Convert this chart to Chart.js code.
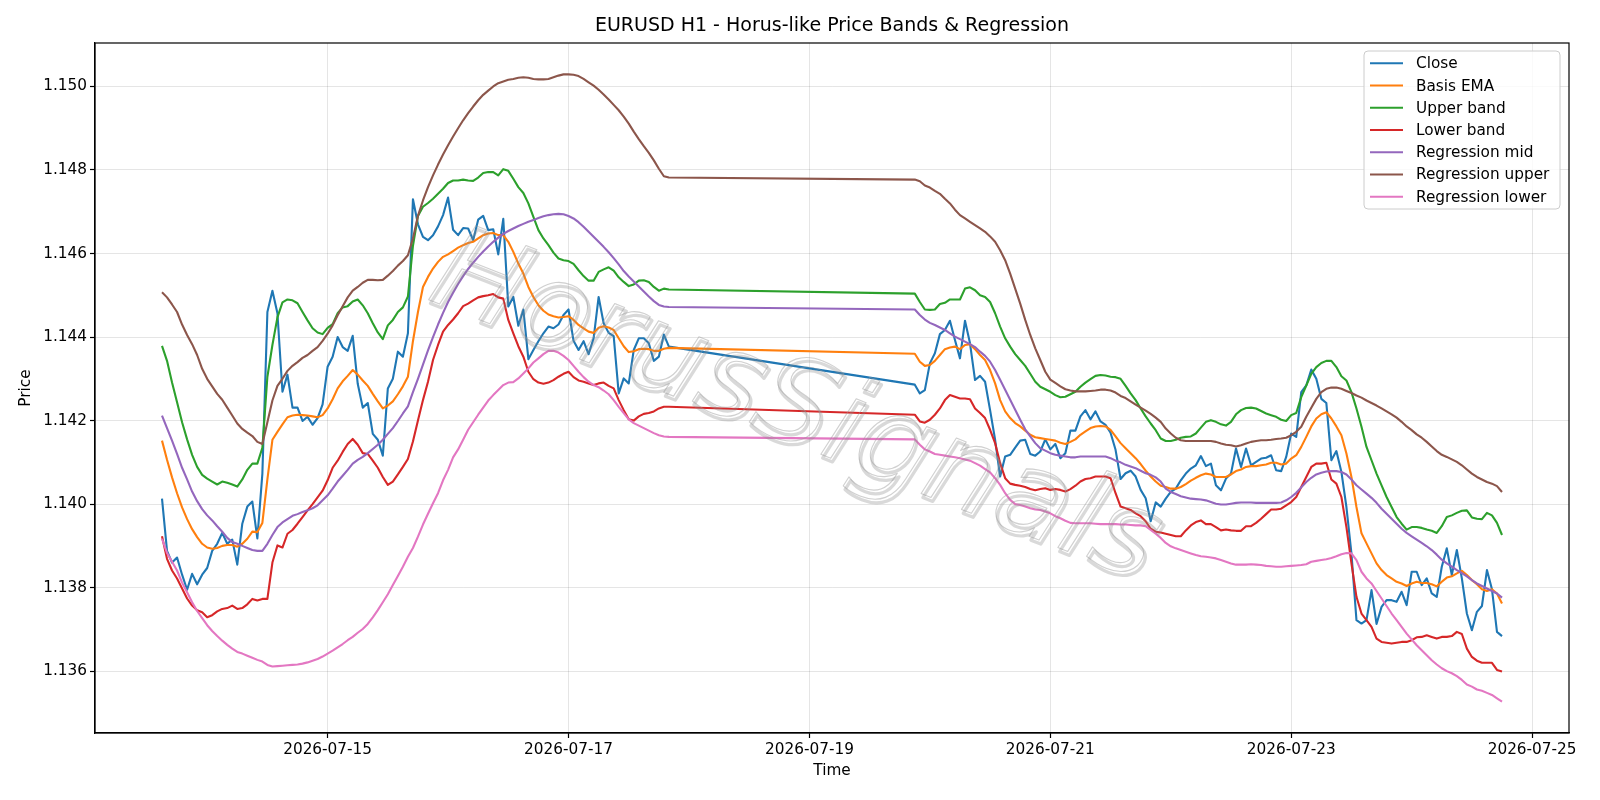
<!DOCTYPE html>
<html><head><meta charset="utf-8">
<script src="https://cdn.jsdelivr.net/npm/chart.js@4.4.1/dist/chart.umd.min.js"></script>
<style>html,body{margin:0;padding:0;background:#fff;}canvas{display:block;}</style>
</head><body>
<canvas id="c" width="1600" height="800" style="width:1600px;height:800px"></canvas>
<script>
// ---- data ----
const chartTitle = 'EURUSD H1 - Horus-like Price Bands & Regression';
const watermarkText = 'HorusSignals';
const seriesNames = ['Close','Basis EMA','Upper band','Lower band','Regression mid','Regression upper','Regression lower'];
const seriesColors = ['#1f77b4','#ff7f0e','#2ca02c','#d62728','#9467bd','#8c564b','#e377c2'];
// hourly bars in two trading sessions (weekend gap between them)
const sessionStarts = ['2026-07-13T15:00:00Z','2026-07-19T21:00:00Z'];
const sessionBars = [102, 118];
const xTickLabels = ['2026-07-15','2026-07-17','2026-07-19','2026-07-21','2026-07-23','2026-07-25'];
const yTickLabels = ['1.136','1.138','1.140','1.142','1.144','1.146','1.148','1.150'];

const close = [
1.14013,1.13888,1.13860,1.13872,1.13831,1.13795,1.13833,1.13808,1.13831,1.13847,1.13888,1.13905,1.13931,1.13905,1.13915,1.13855,1.13953,1.13994,1.14006,1.13918,1.14073,1.14460,1.14511,1.14457,1.14269,1.14310,1.14231,1.14231,1.14199,1.14209,1.14190,1.14206,1.14239,
1.14329,1.14353,1.14400,1.14376,1.14367,1.14403,1.14288,1.14231,1.14242,1.14168,1.14154,1.14116,1.14277,1.14300,1.14365,1.14353,1.14409,
1.14730,1.14670,1.14640,1.14632,1.14644,1.14665,1.14692,1.14734,1.14657,1.14644,1.14661,1.14660,1.14632,1.14681,1.14690,1.14656,1.14658,1.14598,1.14683,1.14473,1.14496,1.14427,1.14466,1.14347,1.14369,1.14390,1.14409,1.14425,1.14421,1.14430,1.14453,1.14466,1.14391,1.14369,1.14390,1.14359,1.14397,1.14496,1.14433,1.14410,1.14402,1.14265,1.14301,1.14289,1.14369,1.14397,1.14397,1.14385,1.14343,1.14353,1.14406,1.14377,
1.14286,1.14265,1.14273,1.14337,1.14361,1.14407,1.14417,1.14439,1.14393,1.14349,1.14439,1.14385,1.14297,1.14307,1.14293,1.14225,1.14154,1.14066,1.14114,1.14118,1.14135,1.14152,1.14154,1.14120,1.14116,1.14126,1.14155,1.14131,1.14144,1.14110,1.14122,1.14176,1.14176,1.14210,1.14225,1.14203,1.14222,1.14198,1.14190,1.14171,1.14130,1.14060,1.14074,1.14080,1.14066,1.14034,1.14014,1.13959,1.14004,1.13994,
1.14013,1.14029,1.14037,1.14057,1.14073,1.14085,1.14093,1.14115,1.14091,1.14097,1.14045,1.14033,1.14061,1.14073,1.14133,1.14089,1.14133,1.14093,1.14101,1.14109,1.14111,1.14117,1.14081,1.14079,1.14113,1.14169,1.14161,1.14268,1.14284,1.14322,1.14300,1.14252,1.14242,1.14105,1.14127,1.14077,1.13993,1.13882,1.13722,1.13714,1.13722,1.13794,1.13713,1.13754,1.13770,1.13770,1.13766,1.13790,1.13758,1.13838,1.13838,1.13806,1.13822,1.13786,1.13778,1.13850,1.13894,1.13830,1.13890,1.13822,1.13738,1.13698,1.13742,1.13756,1.13842,1.13796,1.13694,1.13684];

const basisEma = [
1.14152,1.14106,1.14064,1.14026,1.13992,1.13964,1.13940,1.13921,1.13905,1.13896,1.13893,1.13895,1.13900,1.13902,1.13902,1.13898,1.13905,1.13917,1.13934,1.13933,1.13955,1.14059,1.14154,1.14173,1.14191,1.14208,1.14212,1.14214,1.14213,1.14212,1.14210,1.14208,1.14213,
1.14229,1.14251,1.14277,1.14294,1.14307,1.14321,1.14310,1.14296,1.14283,1.14264,1.14246,1.14229,1.14236,1.14246,1.14263,1.14282,1.14305,
1.14390,1.14460,1.14520,1.14544,1.14564,1.14580,1.14592,1.14598,1.14606,1.14614,1.14620,1.14625,1.14628,1.14636,1.14644,1.14648,1.14649,1.14644,1.14644,1.14628,1.14604,1.14576,1.14552,1.14520,1.14496,1.14476,1.14463,1.14454,1.14450,1.14447,1.14448,1.14450,1.14441,1.14429,1.14421,1.14413,1.14410,1.14422,1.14426,1.14423,1.14417,1.14397,1.14378,1.14364,1.14366,1.14371,1.14372,1.14371,1.14367,1.14367,1.14372,1.14374,
1.14360,1.14341,1.14331,1.14333,1.14343,1.14357,1.14371,1.14375,1.14377,1.14371,1.14381,1.14383,1.14371,1.14357,1.14345,1.14321,1.14289,1.14249,1.14222,1.14206,1.14194,1.14186,1.14176,1.14166,1.14160,1.14158,1.14156,1.14154,1.14152,1.14147,1.14144,1.14149,1.14155,1.14166,1.14174,1.14182,1.14186,1.14187,1.14186,1.14178,1.14162,1.14146,1.14134,1.14122,1.14110,1.14096,1.14080,1.14066,1.14054,1.14044,
1.14041,1.14037,1.14037,1.14041,1.14048,1.14056,1.14063,1.14069,1.14073,1.14071,1.14065,1.14065,1.14065,1.14071,1.14079,1.14083,1.14089,1.14091,1.14091,1.14093,1.14095,1.14099,1.14099,1.14095,1.14097,1.14109,1.14117,1.14137,1.14161,1.14186,1.14205,1.14215,1.14220,1.14205,1.14186,1.14165,1.14121,1.14065,1.13993,1.13930,1.13906,1.13882,1.13858,1.13842,1.13830,1.13822,1.13814,1.13810,1.13804,1.13810,1.13814,1.13811,1.13811,1.13808,1.13803,1.13814,1.13824,1.13827,1.13834,1.13840,1.13830,1.13818,1.13808,1.13796,1.13792,1.13796,1.13786,1.13762];

const upperBand = [
1.14379,1.14343,1.14291,1.14244,1.14196,1.14155,1.14118,1.14089,1.14070,1.14061,1.14054,1.14047,1.14054,1.14051,1.14047,1.14042,1.14059,1.14082,1.14097,1.14097,1.14135,1.14305,1.14381,1.14447,1.14483,1.14490,1.14488,1.14481,1.14460,1.14440,1.14421,1.14411,1.14407,
1.14422,1.14431,1.14457,1.14471,1.14474,1.14485,1.14490,1.14476,1.14457,1.14433,1.14411,1.14395,1.14428,1.14441,1.14460,1.14471,1.14497,
1.14618,1.14690,1.14712,1.14721,1.14731,1.14743,1.14755,1.14769,1.14775,1.14775,1.14777,1.14775,1.14774,1.14782,1.14793,1.14795,1.14795,1.14787,1.14802,1.14798,1.14779,1.14759,1.14745,1.14720,1.14688,1.14656,1.14636,1.14620,1.14602,1.14588,1.14584,1.14582,1.14575,1.14560,1.14546,1.14535,1.14535,1.14556,1.14562,1.14567,1.14559,1.14543,1.14532,1.14522,1.14526,1.14535,1.14536,1.14532,1.14520,1.14511,1.14516,1.14514,
1.14504,1.14484,1.14466,1.14465,1.14466,1.14479,1.14482,1.14490,1.14490,1.14490,1.14516,1.14519,1.14512,1.14500,1.14496,1.14484,1.14457,1.14425,1.14397,1.14377,1.14359,1.14345,1.14331,1.14312,1.14293,1.14281,1.14275,1.14269,1.14261,1.14256,1.14257,1.14263,1.14269,1.14281,1.14291,1.14299,1.14307,1.14309,1.14308,1.14305,1.14304,1.14300,1.14283,1.14265,1.14249,1.14229,1.14210,1.14193,1.14177,1.14157,
1.14151,1.14151,1.14154,1.14159,1.14161,1.14162,1.14169,1.14183,1.14197,1.14201,1.14197,1.14191,1.14188,1.14197,1.14215,1.14225,1.14230,1.14231,1.14229,1.14223,1.14217,1.14213,1.14209,1.14202,1.14199,1.14213,1.14218,1.14256,1.14284,1.14312,1.14328,1.14338,1.14343,1.14343,1.14328,1.14306,1.14296,1.14268,1.14229,1.14185,1.14137,1.14105,1.14073,1.14045,1.14017,1.13993,1.13969,1.13953,1.13939,1.13945,1.13945,1.13943,1.13939,1.13936,1.13931,1.13947,1.13969,1.13973,1.13979,1.13984,1.13985,1.13968,1.13965,1.13964,1.13979,1.13973,1.13955,1.13926];

const lowerBand = [
1.13923,1.13869,1.13841,1.13822,1.13798,1.13774,1.13757,1.13746,1.13741,1.13729,1.13734,1.13743,1.13749,1.13751,1.13757,1.13749,1.13751,1.13760,1.13773,1.13769,1.13773,1.13773,1.13860,1.13901,1.13896,1.13929,1.13938,1.13953,1.13969,1.13985,1.14000,1.14016,1.14032,
1.14057,1.14087,1.14104,1.14125,1.14144,1.14156,1.14142,1.14122,1.14120,1.14104,1.14087,1.14065,1.14046,1.14054,1.14071,1.14089,1.14108,
1.14150,1.14200,1.14249,1.14293,1.14345,1.14381,1.14413,1.14429,1.14442,1.14457,1.14474,1.14480,1.14488,1.14495,1.14498,1.14500,1.14503,1.14495,1.14492,1.14441,1.14409,1.14378,1.14353,1.14317,1.14299,1.14291,1.14288,1.14291,1.14297,1.14305,1.14312,1.14317,1.14304,1.14296,1.14293,1.14289,1.14285,1.14289,1.14291,1.14283,1.14277,1.14249,1.14225,1.14203,1.14200,1.14210,1.14216,1.14218,1.14222,1.14229,1.14233,1.14233,
1.14214,1.14198,1.14195,1.14202,1.14214,1.14229,1.14249,1.14261,1.14257,1.14253,1.14253,1.14251,1.14229,1.14218,1.14206,1.14178,1.14146,1.14098,1.14062,1.14049,1.14046,1.14044,1.14041,1.14036,1.14033,1.14036,1.14038,1.14034,1.14036,1.14034,1.14030,1.14036,1.14044,1.14054,1.14060,1.14062,1.14066,1.14066,1.14066,1.14062,1.14026,1.13994,1.13990,1.13986,1.13978,1.13971,1.13959,1.13941,1.13934,1.13932,
1.13929,1.13926,1.13923,1.13923,1.13937,1.13949,1.13957,1.13961,1.13952,1.13952,1.13945,1.13937,1.13939,1.13937,1.13936,1.13936,1.13947,1.13947,1.13955,1.13965,1.13976,1.13987,1.13987,1.13989,1.13997,1.14005,1.14017,1.14041,1.14065,1.14089,1.14097,1.14097,1.14099,1.14059,1.14049,1.14017,1.13945,1.13858,1.13778,1.13738,1.13722,1.13706,1.13678,1.13670,1.13668,1.13666,1.13668,1.13670,1.13670,1.13674,1.13681,1.13682,1.13686,1.13682,1.13678,1.13682,1.13682,1.13684,1.13694,1.13689,1.13654,1.13634,1.13625,1.13620,1.13620,1.13620,1.13603,1.13599];

const regMid = [
1.14212,1.14182,1.14152,1.14120,1.14087,1.14059,1.14030,1.14007,1.13988,1.13973,1.13961,1.13947,1.13934,1.13919,1.13909,1.13905,1.13900,1.13895,1.13890,1.13888,1.13888,1.13905,1.13926,1.13945,1.13956,1.13964,1.13972,1.13976,1.13981,1.13985,1.13990,1.13997,1.14009,
1.14021,1.14037,1.14054,1.14068,1.14082,1.14097,1.14106,1.14113,1.14122,1.14132,1.14142,1.14154,1.14168,1.14182,1.14199,1.14217,1.14234,
1.14268,1.14300,1.14334,1.14368,1.14400,1.14430,1.14458,1.14484,1.14506,1.14527,1.14546,1.14563,1.14578,1.14592,1.14605,1.14617,1.14628,1.14638,1.14647,1.14654,1.14660,1.14666,1.14671,1.14676,1.14680,1.14685,1.14689,1.14692,1.14694,1.14695,1.14694,1.14690,1.14684,1.14675,1.14664,1.14652,1.14640,1.14628,1.14616,1.14603,1.14589,1.14574,1.14558,1.14545,1.14533,1.14521,1.14509,1.14497,1.14486,1.14477,1.14473,1.14472,
1.14466,1.14453,1.14442,1.14434,1.14429,1.14423,1.14417,1.14409,1.14401,1.14395,1.14389,1.14383,1.14376,1.14365,1.14355,1.14341,1.14321,1.14298,1.14274,1.14250,1.14226,1.14202,1.14179,1.14162,1.14146,1.14134,1.14128,1.14122,1.14118,1.14116,1.14114,1.14112,1.14112,1.14114,1.14114,1.14114,1.14114,1.14114,1.14114,1.14110,1.14104,1.14100,1.14094,1.14090,1.14086,1.14080,1.14074,1.14070,1.14064,1.14054,
1.14037,1.14029,1.14024,1.14019,1.14016,1.14013,1.14012,1.14011,1.14009,1.14005,1.14001,1.13999,1.13999,1.14001,1.14003,1.14004,1.14004,1.14004,1.14003,1.14003,1.14003,1.14003,1.14003,1.14004,1.14009,1.14017,1.14027,1.14040,1.14053,1.14063,1.14071,1.14075,1.14078,1.14079,1.14079,1.14077,1.14071,1.14059,1.14045,1.14035,1.14025,1.14015,1.14003,1.13989,1.13977,1.13965,1.13953,1.13941,1.13931,1.13923,1.13915,1.13907,1.13899,1.13890,1.13879,1.13867,1.13858,1.13850,1.13842,1.13835,1.13827,1.13818,1.13810,1.13804,1.13798,1.13792,1.13786,1.13776];

const regUpper = [
1.14507,1.14495,1.14478,1.14460,1.14430,1.14405,1.14383,1.14357,1.14324,1.14300,1.14282,1.14264,1.14250,1.14231,1.14212,1.14193,1.14180,1.14171,1.14163,1.14149,1.14144,1.14196,1.14248,1.14283,1.14300,1.14319,1.14331,1.14340,1.14350,1.14357,1.14367,1.14376,1.14391,
1.14408,1.14428,1.14452,1.14474,1.14495,1.14511,1.14520,1.14530,1.14537,1.14537,1.14536,1.14537,1.14547,1.14558,1.14571,1.14582,1.14596,
1.14636,1.14690,1.14727,1.14759,1.14787,1.14813,1.14837,1.14859,1.14880,1.14900,1.14919,1.14936,1.14952,1.14967,1.14980,1.14990,1.15000,1.15008,1.15012,1.15016,1.15018,1.15021,1.15022,1.15021,1.15018,1.15017,1.15017,1.15018,1.15022,1.15026,1.15029,1.15029,1.15028,1.15025,1.15018,1.15010,1.15002,1.14992,1.14981,1.14969,1.14956,1.14943,1.14928,1.14911,1.14892,1.14874,1.14857,1.14841,1.14823,1.14803,1.14785,1.14782,
1.14777,1.14773,1.14763,1.14758,1.14750,1.14743,1.14731,1.14720,1.14705,1.14692,1.14684,1.14676,1.14668,1.14660,1.14652,1.14641,1.14628,1.14608,1.14584,1.14552,1.14516,1.14480,1.14441,1.14405,1.14373,1.14345,1.14317,1.14298,1.14290,1.14282,1.14275,1.14272,1.14270,1.14270,1.14270,1.14271,1.14272,1.14274,1.14274,1.14272,1.14267,1.14259,1.14254,1.14246,1.14238,1.14231,1.14224,1.14216,1.14207,1.14197,
1.14181,1.14169,1.14159,1.14153,1.14151,1.14151,1.14151,1.14151,1.14151,1.14151,1.14149,1.14145,1.14142,1.14141,1.14138,1.14141,1.14145,1.14149,1.14151,1.14153,1.14153,1.14154,1.14156,1.14157,1.14159,1.14165,1.14173,1.14185,1.14209,1.14231,1.14252,1.14268,1.14276,1.14279,1.14279,1.14276,1.14271,1.14266,1.14260,1.14255,1.14248,1.14242,1.14236,1.14229,1.14222,1.14215,1.14207,1.14197,1.14186,1.14177,1.14167,1.14159,1.14149,1.14138,1.14127,1.14118,1.14113,1.14107,1.14101,1.14093,1.14083,1.14073,1.14065,1.14059,1.14053,1.14049,1.14043,1.14029];

const regLower = [
1.13917,1.13883,1.13862,1.13841,1.13812,1.13789,1.13765,1.13744,1.13727,1.13710,1.13696,1.13684,1.13673,1.13663,1.13654,1.13646,1.13642,1.13637,1.13632,1.13627,1.13623,1.13615,1.13611,1.13612,1.13613,1.13614,1.13615,1.13616,1.13618,1.13621,1.13625,1.13629,1.13635,
1.13642,1.13649,1.13657,1.13665,1.13674,1.13682,1.13692,1.13701,1.13713,1.13729,1.13746,1.13765,1.13784,1.13806,1.13828,1.13850,1.13874,
1.13895,1.13922,1.13951,1.13977,1.14002,1.14026,1.14057,1.14082,1.14112,1.14131,1.14154,1.14178,1.14196,1.14214,1.14231,1.14248,1.14261,1.14273,1.14285,1.14291,1.14292,1.14301,1.14313,1.14325,1.14339,1.14349,1.14359,1.14367,1.14367,1.14363,1.14355,1.14345,1.14331,1.14317,1.14304,1.14293,1.14285,1.14280,1.14272,1.14263,1.14249,1.14233,1.14218,1.14203,1.14194,1.14188,1.14182,1.14176,1.14170,1.14165,1.14162,1.14161,
1.14155,1.14142,1.14131,1.14126,1.14120,1.14118,1.14116,1.14114,1.14112,1.14110,1.14107,1.14104,1.14098,1.14092,1.14084,1.14076,1.14062,1.14046,1.14026,1.14010,1.14000,1.13998,1.13994,1.13990,1.13987,1.13986,1.13982,1.13978,1.13971,1.13966,1.13960,1.13955,1.13954,1.13954,1.13954,1.13954,1.13953,1.13952,1.13952,1.13952,1.13952,1.13951,1.13951,1.13950,1.13949,1.13949,1.13947,1.13938,1.13929,1.13919,
1.13907,1.13899,1.13894,1.13890,1.13886,1.13882,1.13878,1.13875,1.13874,1.13872,1.13870,1.13866,1.13862,1.13858,1.13855,1.13855,1.13855,1.13856,1.13855,1.13854,1.13852,1.13851,1.13850,1.13850,1.13851,1.13852,1.13853,1.13854,1.13856,1.13862,1.13864,1.13866,1.13868,1.13871,1.13875,1.13880,1.13883,1.13882,1.13866,1.13838,1.13822,1.13810,1.13792,1.13774,1.13756,1.13738,1.13722,1.13706,1.13690,1.13676,1.13662,1.13650,1.13638,1.13626,1.13616,1.13607,1.13600,1.13595,1.13588,1.13579,1.13568,1.13563,1.13556,1.13553,1.13548,1.13543,1.13535,1.13527];

// ---- build ----
const HOUR = 3600000;
const times = [];
sessionStarts.forEach((s, k) => { const t0 = Date.parse(s); for (let i = 0; i < sessionBars[k]; i++) times.push(t0 + i * HOUR); });
const allSeries = [close, basisEma, upperBand, lowerBand, regMid, regUpper, regLower];
const xTicks = xTickLabels.map(s => Date.parse(s + 'T00:00:00Z'));
const yTicks = yTickLabels.map(Number);

const xSpan = times[times.length - 1] - times[0];
const xMin = times[0] - 0.05 * xSpan, xMax = times[times.length - 1] + 0.05 * xSpan;
const flat = allSeries.flat();
const dMin = Math.min(...flat), dMax = Math.max(...flat);
const yMin = dMin - 0.05 * (dMax - dMin), yMax = dMax + 0.05 * (dMax - dMin);

const FONT = "'DejaVu Sans', 'Liberation Sans', sans-serif";
const n = seriesNames.length;
const datasets = allSeries.map((arr, k) => ({
  label: seriesNames[k],
  data: arr.map((v, i) => ({ x: times[i], y: v })),
  borderColor: seriesColors[k], backgroundColor: seriesColors[k],
  borderWidth: 2.1, pointRadius: 0, tension: 0, fill: false,
  borderJoinStyle: 'round', borderCapStyle: 'butt',
  order: n - k
}));

const frameAndText = {
  id: 'frameAndText',
  afterDatasetsDraw(chart) {
    const ctx = chart.ctx, a = chart.chartArea;
    // watermark
    ctx.save();
    ctx.beginPath(); ctx.rect(a.left, a.top, a.right - a.left, a.bottom - a.top); ctx.clip();
    ctx.translate(795, 411);
    ctx.rotate(21.5 * Math.PI / 180);
    ctx.font = "italic 118px " + FONT;
    ctx.textAlign = 'center'; ctx.textBaseline = 'middle';
    ctx.lineJoin = 'round';
    ctx.lineWidth = 3.2; ctx.strokeStyle = 'rgba(140,140,140,0.33)';
    ctx.strokeText(watermarkText, 3, 3);
    ctx.lineWidth = 1.1; ctx.strokeStyle = 'rgba(150,150,150,0.45)';
    ctx.strokeText(watermarkText, 0, 0);
    ctx.restore();
  },
  afterDraw(chart) {
    const ctx = chart.ctx, a = chart.chartArea;
    ctx.save();
    // frame
    ctx.strokeStyle = '#000'; ctx.lineWidth = 1.2;
    ctx.strokeRect(a.left, a.top, a.right - a.left, a.bottom - a.top);
    // title & axis labels
    ctx.fillStyle = '#000';
    ctx.textAlign = 'center'; ctx.textBaseline = 'middle';
    ctx.font = "19px " + FONT;
    ctx.fillText(chartTitle, (a.left + a.right) / 2, 26);
    ctx.font = "15.3px " + FONT;
    ctx.fillText('Time', (a.left + a.right) / 2, 771);
    ctx.save(); ctx.translate(26, (a.top + a.bottom) / 2); ctx.rotate(-Math.PI / 2);
    ctx.fillText('Price', 0, 0); ctx.restore();
    // legend
    const lx = 1364, ly = 51, lw = 196, lh = 158, r = 4;
    ctx.beginPath();
    ctx.moveTo(lx + r, ly); ctx.lineTo(lx + lw - r, ly); ctx.quadraticCurveTo(lx + lw, ly, lx + lw, ly + r);
    ctx.lineTo(lx + lw, ly + lh - r); ctx.quadraticCurveTo(lx + lw, ly + lh, lx + lw - r, ly + lh);
    ctx.lineTo(lx + r, ly + lh); ctx.quadraticCurveTo(lx, ly + lh, lx, ly + lh - r);
    ctx.lineTo(lx, ly + r); ctx.quadraticCurveTo(lx, ly, lx + r, ly); ctx.closePath();
    ctx.fillStyle = 'rgba(255,255,255,0.8)'; ctx.fill();
    ctx.strokeStyle = '#cccccc'; ctx.lineWidth = 1; ctx.stroke();
    ctx.textAlign = 'left';
    ctx.font = "15.3px " + FONT;
    seriesNames.forEach((name, k) => {
      const cy = 63.3 + k * 22.23;
      ctx.strokeStyle = seriesColors[k]; ctx.lineWidth = 2.1;
      ctx.beginPath(); ctx.moveTo(1370, cy); ctx.lineTo(1403, cy); ctx.stroke();
      ctx.fillStyle = '#000'; ctx.fillText(name, 1416, cy + 1);
    });
    ctx.restore();
  }
};

new Chart(document.getElementById('c'), {
  type: 'line',
  data: { datasets },
  options: {
    responsive: false, animation: false, devicePixelRatio: 1,
    layout: { padding: { left: 0, right: 31, top: 43, bottom: 0 } },
    plugins: { legend: { display: false }, title: { display: false }, tooltip: { enabled: false } },
    scales: {
      x: {
        type: 'linear', min: xMin, max: xMax,
        afterBuildTicks: s => { s.ticks = xTicks.map(v => ({ value: v })); },
        afterFit: s => { s.height = 67; s.paddingLeft = 0; s.paddingRight = 0; },
        ticks: { autoSkip: false, maxRotation: 0, minRotation: 0, padding: 3, color: '#000',
          font: { family: FONT, size: 15.3 },
          callback: v => { const i = xTicks.indexOf(v); return i >= 0 ? xTickLabels[i] : ''; } },
        grid: { color: 'rgba(0,0,0,0.1)', lineWidth: 1, tickLength: 5, tickColor: '#000', tickWidth: 1.2 },
        border: { display: true, color: '#000', width: 1.2 }
      },
      y: {
        type: 'linear', min: yMin, max: yMax,
        afterBuildTicks: s => { s.ticks = yTicks.map(v => ({ value: v })); },
        afterFit: s => { s.width = 95; s.paddingTop = 0; s.paddingBottom = 0; },
        ticks: { padding: 3, color: '#000', font: { family: FONT, size: 15.3 },
          callback: v => { const i = yTicks.indexOf(v); return i >= 0 ? yTickLabels[i] : ''; } },
        grid: { color: 'rgba(0,0,0,0.1)', lineWidth: 1, tickLength: 5, tickColor: '#000', tickWidth: 1.2 },
        border: { display: true, color: '#000', width: 1.2 }
      }
    }
  },
  plugins: [frameAndText]
});
</script>
</body></html>
